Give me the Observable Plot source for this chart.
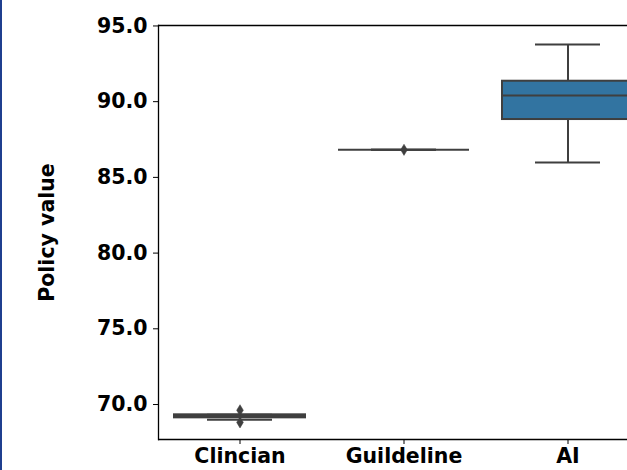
<!DOCTYPE html>
<html>
<head>
<meta charset="utf-8">
<script src="https://cdn.jsdelivr.net/npm/d3@7"></script>
<script src="https://cdn.jsdelivr.net/npm/@observablehq/plot@0.6"></script>
<style>
  html, body { margin: 0; padding: 0; background: white; overflow: hidden; }
  #wrap { width: 660px; position: relative; }
  #edge { position: absolute; left: 0; top: 0; width: 2px; height: 470px; background: #1f3f8f; z-index: 2; }
</style>
</head>
<body>
<div id="edge"></div>
<div id="wrap"></div>
<script>
// Box summary statistics
const categories = ["Clincian", "Guildeline", "AI"];
const mins    = [68.99, 86.82, 85.98];
const q1s     = [69.12, 86.82, 88.82];
const medians = [69.25, 86.82, 90.41];
const q3s     = [69.32, 86.82, 91.35];
const maxs    = [69.32, 86.82, 93.77];
// Outliers (fliers)
const outlierCategories = ["Clincian", "Clincian", "Guildeline"];
const outlierValues     = [69.62, 68.82, 86.82];
// Y tick values and axis limits
const yTicks = [70, 75, 80, 85, 90, 95];
const yLimits = [67.69, 95.03];

const boxes = categories.map((c, i) => ({
  cat: c, min: mins[i], q1: q1s[i], med: medians[i], q3: q3s[i], max: maxs[i]
}));
const outliers = outlierCategories.map((c, i) => ({cat: c, v: outlierValues[i]}));

const lineColor = "#3f3f3f";
const boxFill = "#3274a1";

const thinDiamond = {
  draw(context, size) {
    const h = Math.sqrt(size) * 0.9;
    const w = h * 0.6;
    context.moveTo(0, -h);
    context.lineTo(w, 0);
    context.lineTo(0, h);
    context.lineTo(-w, 0);
    context.closePath();
  }
};

const chart = Plot.plot({
  width: 660,
  height: 470,
  marginLeft: 158,
  marginRight: 10,
  marginTop: 25,
  marginBottom: 31,
  style: {fontFamily: "'DejaVu Sans', sans-serif", fontSize: "20.5px", fontWeight: "bold", background: "white", color: "black"},
  x: {domain: categories, paddingInner: 0.2, paddingOuter: 0.1, axis: null},
  y: {domain: yLimits, axis: null},
  marks: [
    Plot.axisY({
      ticks: yTicks, tickFormat: d3.format(".1f"), tickSize: 5, tickPadding: 6,
      label: "Policy value", labelAnchor: "center", labelArrow: "none", labelOffset: 119
    }),
    Plot.axisX({tickSize: 5, tickPadding: 4, label: null}),
    // whiskers
    Plot.ruleX(boxes, {x: "cat", y1: "q3", y2: "max", stroke: lineColor, strokeWidth: 2}),
    Plot.ruleX(boxes, {x: "cat", y1: "min", y2: "q1", stroke: lineColor, strokeWidth: 2}),
    // caps
    Plot.tickY(boxes, {x: "cat", y: "max", stroke: lineColor, strokeWidth: 2, insetLeft: 33, insetRight: 33}),
    Plot.tickY(boxes, {x: "cat", y: "min", stroke: lineColor, strokeWidth: 2, insetLeft: 33, insetRight: 33}),
    // boxes
    Plot.barY(boxes, {x: "cat", y1: "q1", y2: "q3", fill: boxFill, stroke: lineColor, strokeWidth: 2, insetLeft: 0, insetRight: 0}),
    // medians
    Plot.tickY(boxes, {x: "cat", y: "med", stroke: lineColor, strokeWidth: 2}),
    // outliers
    Plot.dot(outliers, {x: "cat", y: "v", symbol: thinDiamond, r: 3.5, fill: lineColor, stroke: lineColor, strokeWidth: 0.5}),
    // spines (left, top, bottom)
    Plot.frame({stroke: "black", strokeWidth: 1.3, anchor: "left"}),
    Plot.ruleY(yLimits, {stroke: "black", strokeWidth: 1.3})
  ]
});
document.getElementById("wrap").appendChild(chart);
</script>
</body>
</html>
